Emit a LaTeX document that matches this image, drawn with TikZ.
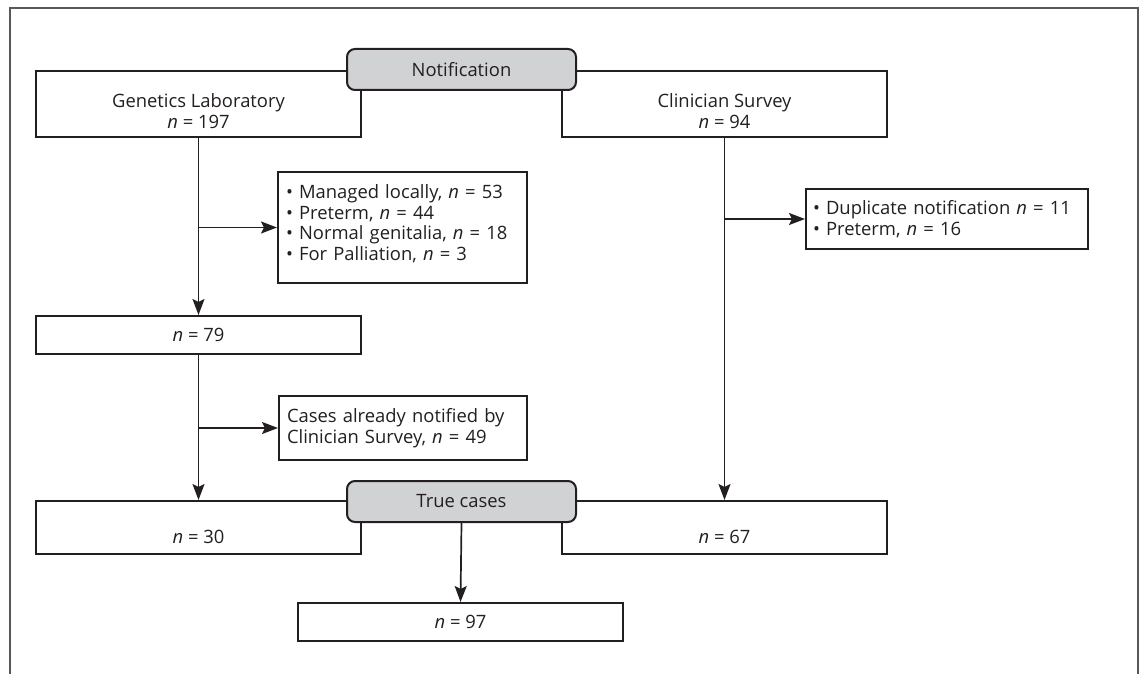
\documentclass[tikz,border=0pt]{standalone}
\usepackage{fontspec}
\setmainfont{Open Sans}
\usetikzlibrary{arrows.meta}
\definecolor{ink}{HTML}{231F20}
\definecolor{headgray}{HTML}{D1D2D4}
\begin{document}
\begin{tikzpicture}[
    x=0.5pt, y=-0.5pt,
    every node/.style={font=\fontsize{9.2}{10.3}\selectfont, text=ink},
    box/.style={draw=ink, line width=1pt, fill=white, inner sep=0pt,
        minimum width=162.5pt, align=center},
    head/.style={draw=ink, line width=1pt, fill=headgray, rounded corners=4pt,
        minimum width=114.5pt, minimum height=20.5pt, inner sep=0pt},
    note/.style={draw=ink, line width=1pt, fill=white, align=left,
        inner xsep=4pt, inner ysep=0pt},
    arr/.style={draw=ink, line width=0.85pt,
        -{Stealth[length=8pt,width=6pt,inset=1.5pt]}}
    ]
    \useasboundingbox (0,0) rectangle (1144,674);
    % outer frame
    \draw[draw=ink!75, line width=1pt] (10,674) -- (10,8) -- (1138,8) -- (1138,674);
    % sources
    \node[box, minimum height=33pt] (gen) at (198.5,70)[anchor=north]
        {\rule{0pt}{17pt}Genetics Laboratory\\\textit{n}~=~197\rule[-3pt]{0pt}{0pt}};
    \node[box, minimum height=33pt] (clin) at (724.5,70)[anchor=north]
        {\rule{0pt}{17pt}Clinician Survey\\\textit{n}~=~94\rule[-3pt]{0pt}{0pt}};
    \node[head] (notif) at (461.5,69.5) {Notification};
    % exclusions
    \node[note, text width=116.5pt, minimum height=55.5pt] (excl1) at (277,227.5)[anchor=west]
        {• Managed locally, \textit{n}~=~53\\
         • Preterm, \textit{n}~=~44\\
         • Normal genitalia, \textit{n}~=~18\\
         • For Palliation, \textit{n}~=~3\rule[-5pt]{0pt}{0pt}};
    \node[box, minimum height=19pt] (n79) at (198.5,335) {\textit{n}~=~79};
    \node[note, text width=116pt, minimum height=32pt] (excl2) at (278,428)[anchor=west]
        {Cases already notified by\\Clinician Survey, \textit{n}~=~49};
    \node[note, text width=134pt, inner xsep=3.5pt, minimum height=30pt] (excl3) at (805,219)[anchor=west]
        {• Duplicate notification \textit{n}~=~11\\
         • Preterm, \textit{n}~=~16};
    % results
    \node[box, text height=21pt, text depth=5.5pt] (n30) at (198.5,500)[anchor=north] {\textit{n}~=~30};
    \node[box, text height=21pt, text depth=5.5pt] (n67) at (724.5,500)[anchor=north] {\textit{n}~=~67};
    \node[head] (true) at (461.5,501.5) {True cases};
    \node[box, minimum height=19pt] (n97) at (460.5,622) {\textit{n}~=~97};
    % connectors
    \draw[arr] (gen.south) -- (n79.north);
    \draw[arr] (gen.south |- excl1.west) -- (excl1.west);
    \draw[arr] (n79.south) -- (n30.north);
    \draw[arr] (n79.south |- excl2.west) -- (excl2.west);
    \draw[arr] (clin.south) -- (n67.north);
    \draw[arr] (clin.south |- excl3.west) -- (excl3.west);
    \draw[arr] (true.south) -- (n97.north);
\end{tikzpicture}
\end{document}
